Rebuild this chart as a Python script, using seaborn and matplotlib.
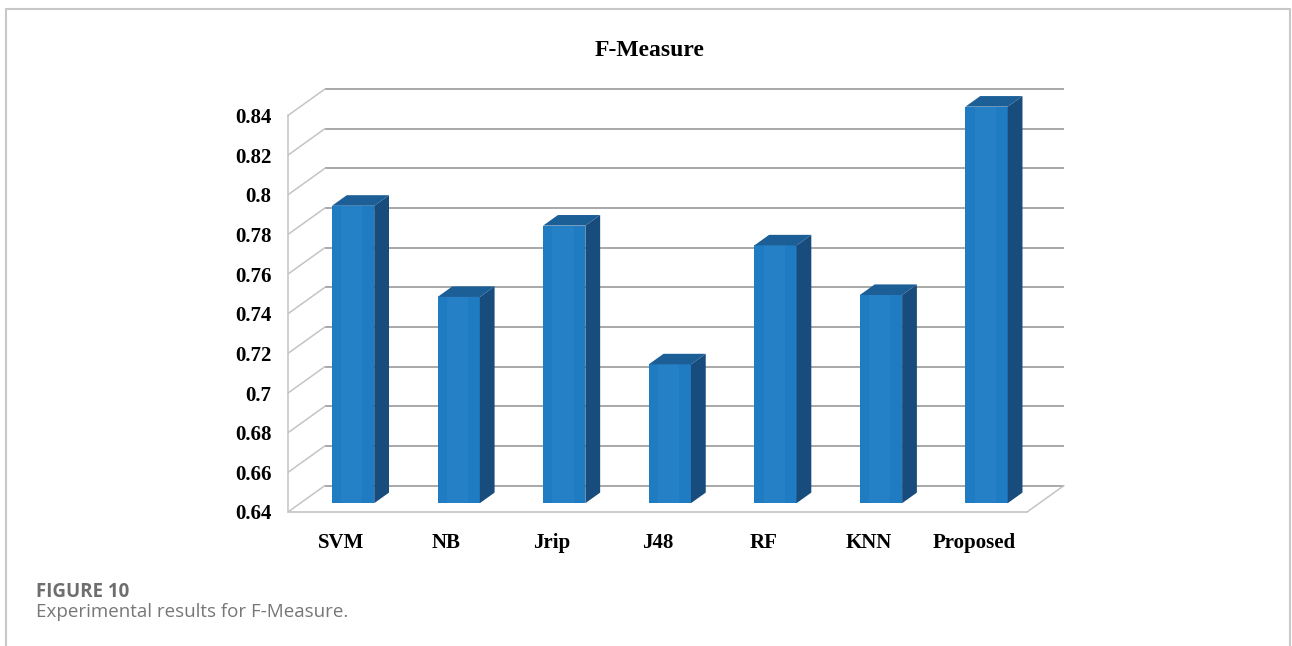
import matplotlib
matplotlib.use("Agg")
import matplotlib.pyplot as plt
from matplotlib.patches import Polygon, Rectangle
from matplotlib.lines import Line2D
import seaborn as sns
import pandas as pd

# ---- data -------------------------------------------------------------
methods = ["SVM", "NB", "Jrip", "J48", "RF", "KNN", "Proposed"]
f_measure = [0.79, 0.744, 0.78, 0.71, 0.77, 0.745, 0.84]
y_ticks = [0.64, 0.66, 0.68, 0.70, 0.72, 0.74, 0.76, 0.78, 0.80, 0.82, 0.84]
y_tick_labels = ["0.64", "0.66", "0.68", "0.7", "0.72", "0.74", "0.76",
                 "0.78", "0.8", "0.82", "0.84"]
title = "F-Measure"
fig_label = "FIGURE 10"
fig_caption = "Experimental results for F-Measure."

# ---- styling ----------------------------------------------------------
sns.set_theme(style="white")
plt.rcParams["font.family"] = ["Liberation Serif", "DejaVu Serif"]

FRONT = "#1f7cc3"
TOP = "#1c5f97"
SIDE = "#174c7c"
GRID = "#a8a8a8"
WALL = "#c4c4c4"

BASE = y_ticks[0]
# depth of the wall in data units (x: categories, y: value)
DX, DY = 0.35, 0.01335
BAR_FRONT = 1 / 3      # bars stand a third of the way into the depth
BAR_DEPTH = 0.40       # depth of each column as a fraction of the wall depth

W, H = 1292, 646
fig = plt.figure(figsize=(W / 100, H / 100), dpi=100)
left, right, bottom, top = 288, 1064, 512, 89
ax = fig.add_axes([left / W, 1 - bottom / H, (right - left) / W, (bottom - top) / H])
ax.set_facecolor("none")

df = pd.DataFrame({"method": methods, "value": f_measure})
sns.barplot(data=df, x="method", y="value", color=FRONT, saturation=1,
            width=0.4, linewidth=0, ax=ax, zorder=3)

n = len(methods)
ax.set_xlim(-0.5, n - 0.5 + DX)
ax.set_ylim(BASE, y_ticks[-1] + DY)

# ---- walls and floor ---------------------------------------------------
x0, x1 = -0.5, n - 0.5
for v in y_ticks:
    ax.plot([x0 + DX, x1 + DX], [v + DY, v + DY], color=GRID, lw=1.4,
            zorder=1, clip_on=False, solid_capstyle="butt")
    ax.plot([x0, x0 + DX], [v, v + DY], color=WALL, lw=1.1, zorder=1,
            clip_on=False)
ax.plot([x0, x0], [BASE, y_ticks[-1]], color=WALL, lw=1.1, zorder=1, clip_on=False)
ax.plot([x0, x1], [BASE, BASE], color=WALL, lw=1.2, zorder=1, clip_on=False)
ax.plot([x1, x1 + DX], [BASE, BASE + DY], color=WALL, lw=1.1, zorder=1, clip_on=False)

# ---- turn the flat bars into columns ----------------------------------
fx, fy = BAR_FRONT * DX, BAR_FRONT * DY
ddx, ddy = BAR_DEPTH * DX, BAR_DEPTH * DY
for p in list(ax.patches):
    v = p.get_height()
    bx, bw = p.get_x() + fx, p.get_width()
    p.set_x(bx)
    p.set_y(BASE + fy)
    p.set_height(v - BASE)
    y_lo, y_hi = BASE + fy, v + fy
    # faint lighter band across the front face
    ax.add_patch(Rectangle((bx + 0.22 * bw, y_lo), 0.5 * bw, v - BASE,
                           facecolor="white", alpha=0.035, lw=0, zorder=3.5))
    side = Polygon([(bx + bw, y_lo), (bx + bw + ddx, y_lo + ddy),
                    (bx + bw + ddx, y_hi + ddy), (bx + bw, y_hi)],
                   closed=True, facecolor=SIDE, lw=0, zorder=3)
    lid = Polygon([(bx, y_hi), (bx + ddx, y_hi + ddy),
                   (bx + bw + ddx, y_hi + ddy), (bx + bw, y_hi)],
                  closed=True, facecolor=TOP, lw=0, zorder=3)
    ax.add_patch(side)
    ax.add_patch(lid)

# ---- axes text ---------------------------------------------------------
for s in ax.spines.values():
    s.set_visible(False)
ax.grid(False)
ax.set_xlabel("")
ax.set_ylabel("")
ax.set_yticks(y_ticks)
ax.set_yticklabels(y_tick_labels)
ax.set_xticks(range(n))
ax.set_xticklabels(methods)
ax.tick_params(axis="y", length=0, pad=12, labelsize=15)
ax.tick_params(axis="x", length=0, pad=15, labelsize=15)
for lab in ax.get_xticklabels() + ax.get_yticklabels():
    lab.set_fontweight("bold")
    lab.set_color("black")

fig.text(650 / W, 1 - 51 / H, title, ha="center", va="center",
         fontsize=17, fontweight="bold", color="black")

# ---- outer frame and caption -----------------------------------------
frame_kw = dict(color="#c8c8c8", lw=1.5, transform=fig.transFigure)
fig.add_artist(Line2D([6 / W, 1290 / W], [1 - 9 / H, 1 - 9 / H], **frame_kw))
fig.add_artist(Line2D([6 / W, 6 / W], [1 - 9 / H, 0], **frame_kw))
fig.add_artist(Line2D([1290 / W, 1290 / W], [1 - 9 / H, 0], **frame_kw))

fig.text(36 / W, 1 - 597 / H, fig_label, ha="left", va="baseline",
         fontsize=13.5, fontweight="bold", color="#6e6e6e",
         family=["Open Sans", "DejaVu Sans"])
fig.text(36 / W, 1 - 617 / H, fig_caption, ha="left", va="baseline",
         fontsize=13.5, color="#777777", family=["Open Sans", "DejaVu Sans"])

fig.savefig("out.png", dpi=100, facecolor="white")
